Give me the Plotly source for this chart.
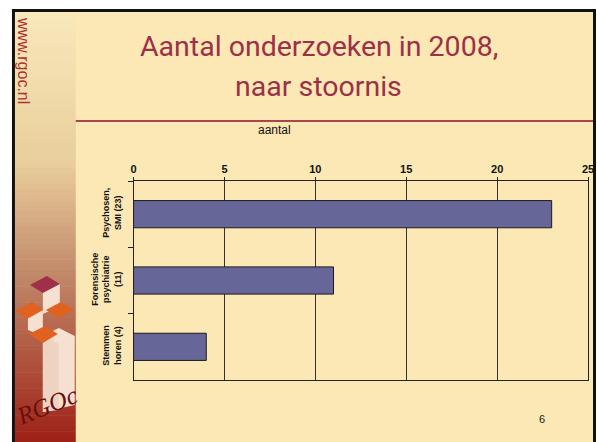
import plotly.graph_objects as go

W, H = 597, 442
# the page ends up ~7px narrower than the layout width, so ask for a bit more
LAYOUT_W = W + 7

categories = ["Psychosen,<br>SMI (23)", "Forensische<br>psychiatrie<br>(11)", "Stemmen<br>horen (4)"]
counts = [23, 11, 4]
x_ticks = [0, 5, 10, 15, 20, 25]

title_lines = ["Aantal onderzoeken in 2008,", "naar stoornis"]
axis_title = "aantal"
side_text = "www.rgoc.nl"
page_no = "6"

cream = "#FCE8B4"
maroon = "#9C3048"


def px(x, y):
    # window pixel -> paper coordinate
    return x / W, 1 - y / H


def rect(x0, y0, x1, y1, color):
    a, b = px(x0, y0)
    c, d = px(x1, y1)
    return dict(type="rect", xref="paper", yref="paper", x0=a, y0=b, x1=c, y1=d,
                fillcolor=color, line=dict(width=0), layer="below")


def poly(points, color):
    path = "M " + " L ".join("%.4f,%.4f" % px(x, y) for x, y in points) + " Z"
    return dict(type="path", xref="paper", yref="paper", path=path,
                fillcolor=color, line=dict(width=0), layer="above")


def mix(c0, c1, t):
    return "rgb(%d,%d,%d)" % tuple(round(a + (b - a) * t) for a, b in zip(c0, c1))


def note(text, x, y, size, color, family="Liberation Sans, Arial", angle=0, **kw):
    a, b = px(x, y)
    return dict(text=text, xref="paper", yref="paper", x=a, y=b, showarrow=False,
                textangle=angle, xanchor="center", yanchor="middle",
                font=dict(family=family, size=size, color=color, **kw))


fig = go.Figure()
fig.add_trace(go.Bar(
    x=counts, y=categories, orientation="h",
    marker=dict(color="#666699", line=dict(color="#1a1a1a", width=1)),
    width=0.41, showlegend=False, hoverinfo="x+y",
))

shapes = [rect(12, 12, 592, 442, cream)]
# sidebar gradient
stops = [(0.0, (248, 232, 186)), (0.35, (233, 206, 156)), (0.62, (192, 134, 104)), (1.0, (158, 34, 24))]
n = 80
for i in range(n):
    t = i / (n - 1)
    for (s0, c0), (s1, c1) in zip(stops, stops[1:]):
        if s0 <= t <= s1:
            col = mix(c0, c1, (t - s0) / (s1 - s0))
            break
    ya = 12 + 430 * i / n
    yb = 12 + 430 * (i + 1) / n + 0.6
    shapes.append(rect(12, ya, 73, yb, col))
# black frame
shapes.append(rect(9, 9, 595, 12, "#111111"))
shapes.append(rect(9, 9, 12, 442, "#111111"))
shapes.append(rect(592, 9, 595, 442, "#111111"))
# title rule
shapes.append(rect(73, 120, 592, 122, "#A8454F"))

# logo blocks
pink = "#F6E0D2"
orange = "#E0621E"
shapes += [
    poly([(40, 336), (56, 328), (72, 336), (72, 405), (40, 412)], pink),
    poly([(40, 336), (56, 344), (56, 410), (40, 412)], "#EFD3C2"),
    poly([(25, 318), (40, 310), (40, 336), (25, 330)], pink),
    poly([(40, 292), (57, 284), (57, 306), (40, 314)], pink),
    poly([(27, 285), (44, 276), (57, 284), (40, 293)], "#A0304A"),
    poly([(13, 311), (29, 302), (40, 310), (24, 319)], orange),
    poly([(43, 310), (58, 302), (71, 310), (56, 318)], orange),
    poly([(26, 334), (42, 326), (55, 334), (40, 343)], orange),
]

xa0, _ = px(131, 0)
xa1, _ = px(587, 0)
_, ya0 = px(0, 380)
_, ya1 = px(0, 181)

fig.update_layout(
    width=LAYOUT_W, height=H,
    margin=dict(l=0, r=0, t=0, b=0),
    paper_bgcolor="white", plot_bgcolor="rgba(0,0,0,0)",
    shapes=shapes,
    xaxis=dict(
        domain=[xa0, xa1], range=[0, 25], side="top",
        tickvals=x_ticks, ticks="outside", ticklen=3, tickcolor="#222",
        tickfont=dict(family="Liberation Sans, Arial", size=11, color="#111", weight="bold"),
        showgrid=True, gridcolor="#333333", gridwidth=1,
        showline=True, linecolor="#222", linewidth=1, mirror=True, zeroline=False,
        fixedrange=True,
    ),
    yaxis=dict(
        domain=[ya0, ya1], autorange="reversed",
        tickangle=-90, ticks="outside", ticklen=5, tickcolor="#222",
        tickson="boundaries", ticklabelstandoff=8,
        tickfont=dict(family="Liberation Sans, Arial", size=9, color="#111", weight="bold"),
        showline=True, linecolor="#222", linewidth=1, mirror=True, showgrid=False,
        fixedrange=True,
    ),
    annotations=[
        note(title_lines[0], 317, 47, 28.5, maroon, family="Roboto"),
        note(title_lines[1], 317, 87, 28.5, maroon, family="Roboto"),
        note(axis_title, 272, 130, 12, "#111"),
        note(side_text, 20, 61, 16, "#B03030", angle=90),
        note(page_no, 541, 419, 11, "#222"),
        note("<i>RGOc</i>", 44, 405, 25, "#6A0E0E",
             family="Liberation Serif, Times New Roman", angle=-22),
    ],
)

# drop the default page margin so the figure fills the window exactly
fig.write_html(
    "out.html",
    config={"displayModeBar": False},
    post_script="document.body.style.margin='0';document.documentElement.style.overflow='hidden';",
)
